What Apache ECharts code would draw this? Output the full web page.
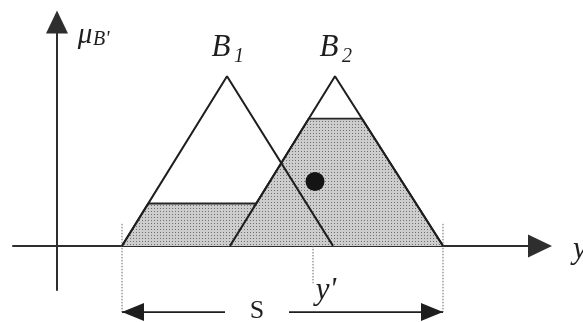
<!DOCTYPE html>
<html>
<head>
<meta charset="utf-8">
<script src="https://cdn.jsdelivr.net/npm/echarts@6/dist/echarts.min.js"></script>
<style>
  html, body { margin: 0; padding: 0; background: #ffffff; }
  #chart { width: 583px; height: 322px; }
</style>
</head>
<body>
<div id="chart"></div>
<script>
// Consequent fuzzy sets as triangles: [left foot, peak, right foot]
const setLabels = ['1', '2'];
const triB1 = [6.5, 17.0, 27.6];
const triB2 = [17.3, 27.8, 38.6];
// Firing strengths used to clip each consequent
const clipLevels = [0.25, 0.75];
// Defuzzified output y' and the centroid marker of the aggregated set
const yPrime = 25.6;
const centroid = [25.8, 0.38];
// Axis extents (y axis sits at x = 0, baseline at mu = 0)
const xRange = [-4.4, 48.3];
const muRange = [-0.26, 1.32];

// ---- layout (drawing only) ----
const sRowMu = -0.39;      // level of the S dimension arrow below the axis
const sLabelX = 20.0;      // where the "S" sits on that arrow
const sGapHalf = 3.2;      // half width of the gap left for "S"
const yTickEndMu = -0.22;  // bottom of the y' drop line
const dropTopMu = 0.13;    // dotted support lines start a little above baseline

const INK = '#1e1e1e';
const SERIF = '"Liberation Serif", "DejaVu Serif", serif';

const tris = [triB1, triB2];

function tri(t, x) {
  if (x <= t[0] || x >= t[2]) return 0;
  return x <= t[1] ? (x - t[0]) / (t[1] - t[0]) : (t[2] - x) / (t[2] - t[1]);
}
function aggregated(x) {
  let v = 0;
  tris.forEach((t, i) => { v = Math.max(v, Math.min(tri(t, x), clipLevels[i])); });
  return v;
}
// Edge lines of a triangle as y = m x + q
function edges(t) {
  const m1 = 1 / (t[1] - t[0]);
  const m2 = -1 / (t[2] - t[1]);
  return [{ m: m1, q: -t[0] * m1, lo: t[0], hi: t[1] },
          { m: m2, q: -t[2] * m2, lo: t[1], hi: t[2] }];
}
// Breakpoints of the clipped-and-aggregated membership function
function breakpoints() {
  const xs = [];
  tris.forEach(t => {
    xs.push(t[0], t[1], t[2]);
    clipLevels.forEach(h => {
      xs.push(t[0] + h * (t[1] - t[0]), t[2] - h * (t[2] - t[1]));
    });
  });
  const e1 = edges(triB1), e2 = edges(triB2);
  e1.forEach(a => e2.forEach(b => {
    if (a.m !== b.m) {
      const x = (b.q - a.q) / (a.m - b.m);
      if (x >= Math.max(a.lo, b.lo) && x <= Math.min(a.hi, b.hi)) xs.push(x);
    }
  }));
  const lo = Math.min(triB1[0], triB2[0]), hi = Math.max(triB1[2], triB2[2]);
  return Array.from(new Set(xs.filter(x => x >= lo && x <= hi))).sort((a, b) => a - b);
}
const aggData = breakpoints().map(x => [x, aggregated(x)]);
const supportLo = Math.min(triB1[0], triB2[0]);
const supportHi = Math.max(triB1[2], triB2[2]);

// Stippled fill like a halftone screen
const tile = document.createElement('canvas');
tile.width = 3; tile.height = 3;
(function () {
  const c = tile.getContext('2d');
  c.fillStyle = '#cdcdcd'; c.fillRect(0, 0, 3, 3);
  c.fillStyle = '#707070'; c.fillRect(1, 1, 1, 1);
})();

function seg(data, style, extra) {
  return Object.assign({
    type: 'line', data, symbol: 'none', clip: false, silent: true,
    lineStyle: Object.assign({ color: INK, width: 2 }, style),
    animation: false
  }, extra || {});
}

const series = [
  // aggregated output set (shaded)
  seg(aggData, { width: 1.8, color: '#262626' }, {
    areaStyle: { color: { image: tile, repeat: 'repeat' }, opacity: 1 }, z: 1
  }),
  // full triangles B1, B2
  ...tris.map(t => seg([[t[0], 0], [t[1], 1], [t[2], 0]], { width: 2 }, { z: 3 })),
  // dotted support edges and y' drop line
  seg([[supportLo, dropTopMu], [supportLo, sRowMu]], { width: 1, type: [1.5, 1.5], color: '#666' }, { z: 2 }),
  seg([[supportHi, dropTopMu], [supportHi, sRowMu]], { width: 1, type: [1.5, 1.5], color: '#666' }, { z: 2 }),
  seg([[yPrime, 0], [yPrime, yTickEndMu]], { width: 1, type: [1.5, 1.5], color: '#666' }, { z: 2 }),
  // S dimension arrow
  seg([[supportLo, sRowMu], [sLabelX - sGapHalf, sRowMu]], { width: 1.8 }, { z: 3 }),
  seg([[sLabelX + sGapHalf, sRowMu], [supportHi, sRowMu]], { width: 1.8 }, { z: 3 }),
  {
    type: 'scatter', clip: false, silent: true, animation: false, z: 4,
    itemStyle: { color: INK, opacity: 1 },
    data: [
      { value: [supportLo, sRowMu], symbol: 'path://M0,9L22,0L22,18Z', symbolSize: [22, 18], symbolOffset: [11, 0] },
      { value: [supportHi, sRowMu], symbol: 'path://M22,9L0,0L0,18Z', symbolSize: [22, 18], symbolOffset: [-11, 0] }
    ]
  },
  // centroid marker
  {
    type: 'scatter', silent: true, animation: false, z: 5,
    symbol: 'circle', symbolSize: 19,
    itemStyle: { color: '#141414', opacity: 1 },
    data: [centroid]
  }
];

const chart = echarts.init(document.getElementById('chart'), null, { renderer: 'canvas' });
chart.setOption({
  backgroundColor: '#ffffff',
  animation: false,
  grid: { left: 13, right: 43, top: 22, bottom: 32 },
  xAxis: {
    type: 'value', min: xRange[0], max: xRange[1],
    axisLine: { show: true, onZero: true, symbol: ['none', 'triangle'], symbolSize: [23, 24],
      lineStyle: { color: '#2e2e2e', width: 2 } },
    axisTick: { show: false }, axisLabel: { show: false }, splitLine: { show: false }
  },
  yAxis: {
    type: 'value', min: muRange[0], max: muRange[1],
    axisLine: { show: true, onZero: true, symbol: ['none', 'triangle'], symbolSize: [22, 23],
      lineStyle: { color: '#2e2e2e', width: 2 } },
    axisTick: { show: false }, axisLabel: { show: false }, splitLine: { show: false }
  },
  series
});

// Text annotations anchored to data positions
function px(p) { return chart.convertToPixel({ gridIndex: 0 }, p); }
function txt(x, y, text, size, opts) {
  return {
    type: 'text', x, y, silent: true, z: 10,
    style: Object.assign({
      text, fill: INK, font: 'italic ' + size + 'px ' + SERIF,
      align: 'center', verticalAlign: 'middle'
    }, opts || {})
  };
}
const els = [];
tris.forEach((t, i) => {
  const p = px([t[1], 1]);
  els.push(txt(p[0] - 6, p[1] - 28, 'B', 31));
  els.push(txt(p[0] + 12, p[1] - 20, setLabels[i], 20));
});
const yAxisTop = px([0, muRange[1]]);
els.push(txt(yAxisTop[0] + 28, yAxisTop[1] + 13, 'μ', 29));
els.push(txt(yAxisTop[0] + 36, yAxisTop[1] + 18, "B'", 20, { align: 'left' }));
const xAxisEnd = px([xRange[1], 0]);
els.push(txt(xAxisEnd[0] + 33, xAxisEnd[1] + 4, 'y', 31, { align: 'left' }));
const yp = px([yPrime, yTickEndMu]);
els.push(txt(yp[0] + 13, yp[1] + 8, "y'", 31));
const sp = px([sLabelX, sRowMu]);
els.push(txt(sp[0], sp[1] - 1, 'S', 26, { font: '26px ' + SERIF }));
chart.setOption({ graphic: { elements: els } });
</script>
</body>
</html>
